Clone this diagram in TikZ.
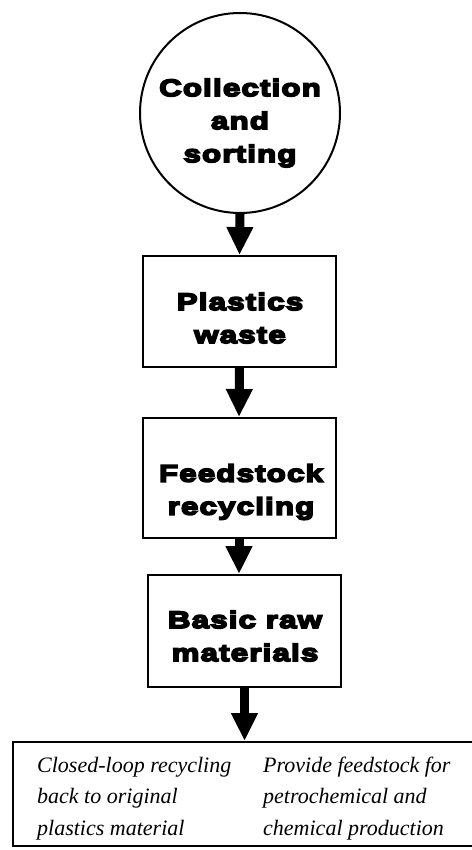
\documentclass[tikz,border=0pt]{standalone}
\usepackage{fontspec}
\usetikzlibrary{arrows.meta}
\newfontfamily\heavyfont{Liberation Sans}[UprightFont=*-Bold, UprightFeatures={FakeBold=7}, FakeStretch=1.3, LetterSpace=5]
\newfontfamily\notefont{Liberation Serif}
\begin{document}
\begin{tikzpicture}[x=1pt,y=-1pt,
  frame/.style={draw,line width=2pt,rectangle,inner sep=0pt,minimum width=193pt},
  heavy/.style={font=\heavyfont\fontsize{24}{33}\selectfont, align=center, inner sep=0pt},
  flowarrow/.style={line width=9pt, -{Triangle[width=25pt,length=28pt]}},
  note/.style={font=\notefont\itshape\fontsize{22}{31.5}\selectfont, align=left, anchor=base west, inner sep=0pt}]
\useasboundingbox (0,0) rectangle (471,850);
\fill[white] (0,0) rectangle (471,850);
\node[draw,circle,line width=2pt,minimum size=200pt,inner sep=0pt] (c) at (240,113) {};
\node[heavy] (ct) at (240,123) {Collection\\and\\sorting};
\node[frame,minimum height=111pt] (b1) at (239.5,311.5) {};
\node[heavy] (t1) at (240,318) {Plastics\\waste};
\node[frame,minimum height=120pt] (b2) at (239,478) {};
\node[heavy] (t2) at (241,492) {Feedstock\\recycling};
\node[frame,minimum height=112pt] (b3) at (244.5,631) {};
\node[heavy] (t3) at (245,636) {Basic raw\\materials};
\node[frame,minimum width=467pt,minimum height=104pt] (b4) at (246.5,794) {};
\node[note] (n1) at (37,835) {Closed-loop recycling\\back to original\\plastics material};
\node[note] (n2) at (263,835) {Provide feedstock for\\petrochemical and\\chemical production};
\draw[flowarrow] (c.south) -- (b1.north);
\draw[flowarrow] (b1.south) -- (b2.north);
\draw[flowarrow] (b2.south) -- (b2.south |- b3.north);
\draw[flowarrow] (b3.south) -- (b3.south |- b4.north);
\end{tikzpicture}
\end{document}
